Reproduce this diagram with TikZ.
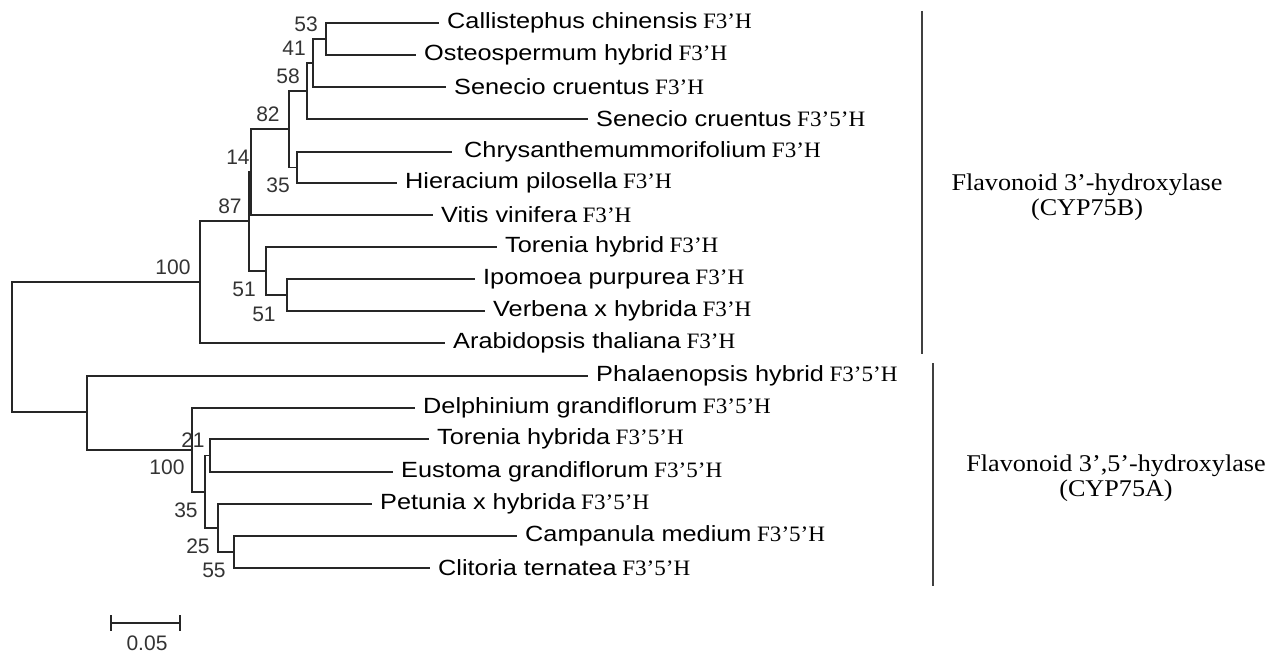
\documentclass[tikz,border=0pt]{standalone}
\usepackage{fontspec}
\setmainfont{Liberation Serif}
\newfontfamily\taxfont[FakeStretch=1.15]{Liberation Sans}
\newfontfamily\genefont[FakeStretch=1.05]{Liberation Serif}
\newfontfamily\grpfont[FakeStretch=1.09]{Liberation Serif}
\newfontfamily\numfont{Liberation Sans}
\usetikzlibrary{arrows.meta, positioning}

\tikzset{
  branch/.style={line width=1.5pt, black!85},
  leaf/.style={anchor=west, inner xsep=8pt, inner ysep=0pt, font=\fontsize{22}{25}\selectfont},
  boot/.style={font=\numfont\fontsize{21}{23}\selectfont, text=black!80, inner sep=0pt},
  grp/.style={font=\grpfont\fontsize{24}{25}\selectfont, align=center, inner sep=0pt},
  groupbar/.style={line width=2pt, black!75},
}
\newcommand{\taxon}[2]{{\taxfont #1} {\genefont #2}}

\begin{document}
\begin{tikzpicture}[x=1pt, y=-1pt]
\useasboundingbox (0,0) rectangle (1274,655);

% internal nodes of the tree
\coordinate (root) at (12,347);
\coordinate (u100) at (200,282);
\coordinate (u87) at (249,221);
\coordinate (u14) at (251,172);
\coordinate (u82) at (289,129);
\coordinate (u58) at (307,91);
\coordinate (u41) at (313,63);
\coordinate (u53) at (326,39);
\coordinate (u35) at (297,167.5);
\coordinate (u51a) at (266,271);
\coordinate (u51b) at (287,295);
\coordinate (l0) at (87,412);
\coordinate (l100) at (192,450);
\coordinate (l35) at (205,492);
\coordinate (l21) at (210,455.5);
\coordinate (l25) at (218,528);
\coordinate (l55) at (234,552);

% leaves
\node[leaf] (callis) at (439,23) {\taxon{Callistephus chinensis}{F3’H}};
\node[leaf] (osteo) at (416,55) {\taxon{Osteospermum hybrid}{F3’H}};
\node[leaf] (senec1) at (446,87) {\taxon{Senecio cruentus}{F3’H}};
\node[leaf] (senec2) at (588,119) {\taxon{Senecio cruentus}{F3’5’H}};
\node[leaf, inner xsep=12pt] (chrys) at (452,152) {\taxon{Chrysanthemummorifolium}{F3’H}};
\node[leaf] (hierac) at (397,183) {\taxon{Hieracium pilosella}{F3’H}};
\node[leaf] (vitis) at (433,215) {\taxon{Vitis vinifera}{F3’H}};
\node[leaf] (toren1) at (497,247) {\taxon{Torenia hybrid}{F3’H}};
\node[leaf] (ipom) at (475,279) {\taxon{Ipomoea purpurea}{F3’H}};
\node[leaf] (verb) at (485,311) {\taxon{Verbena x hybrida}{F3’H}};
\node[leaf] (arab) at (445,343) {\taxon{Arabidopsis thaliana}{F3’H}};
\node[leaf] (phal) at (588,376) {\taxon{Phalaenopsis hybrid}{F3’5’H}};
\node[leaf] (delph) at (415,408) {\taxon{Delphinium grandiflorum}{F3’5’H}};
\node[leaf] (toren2) at (429,439) {\taxon{Torenia hybrida}{F3’5’H}};
\node[leaf] (eust) at (393,472) {\taxon{Eustoma grandiflorum}{F3’5’H}};
\node[leaf] (petun) at (372,504) {\taxon{Petunia x hybrida}{F3’5’H}};
\node[leaf] (campan) at (517,536) {\taxon{Campanula medium}{F3’5’H}};
\node[leaf] (clit) at (430,568) {\taxon{Clitoria ternatea}{F3’5’H}};

% branches
\foreach \p/\c in {root/u100, root/l0, u100/u87, u100/arab, u87/u14, u87/u51a,
    u14/u82, u14/vitis, u82/u58, u82/u35, u58/u41, u58/senec2, u41/u53, u41/senec1,
    u53/callis, u53/osteo, u35/chrys, u35/hierac, u51a/toren1, u51a/u51b,
    u51b/ipom, u51b/verb, l0/phal, l0/l100, l100/delph, l100/l35, l35/l21, l35/l25,
    l21/toren2, l21/eust, l25/petun, l25/l55, l55/campan, l55/clit}
  \draw[branch] (\p) |- (\c);

% bootstrap values
\node[boot] (b53) at (306,24) {53};
\node[boot] (b41) at (294,48) {41};
\node[boot] (b58) at (288,76) {58};
\node[boot] (b82) at (268,114) {82};
\node[boot] (b14) at (238,157) {14};
\node[boot] (b35) at (278,185) {35};
\node[boot] (b87) at (230,206) {87};
\node[boot] (b100) at (173,267) {100};
\node[boot] (b51a) at (244,289) {51};
\node[boot] (b51b) at (264,314) {51};
\node[boot] (b21) at (193,440) {21};
\node[boot] (b100l) at (167,467) {100};
\node[boot] (b35l) at (186,510) {35};
\node[boot] (b25) at (198,546) {25};
\node[boot] (b55) at (214,570) {55};

% groups
\draw[groupbar] (922,11) -- (922,354);
\draw[groupbar] (933,363) -- (933,586);
\node[grp] (grpB) at (1087,197) {Flavonoid 3’-hydroxylase\\(CYP75B)};
\node[grp] (grpA) at (1116,478) {Flavonoid 3’,5’-hydroxylase\\(CYP75A)};

% scale bar
\coordinate (sbl) at (111,623);
\coordinate (sbr) at (180,623);
\draw[branch] (sbl) -- (sbr);
\draw[branch] ([yshift=8pt]sbl) -- ([yshift=-8pt]sbl);
\draw[branch] ([yshift=8pt]sbr) -- ([yshift=-8pt]sbr);
\node[boot] (sblab) at (147,643) {0.05};
\end{tikzpicture}
\end{document}
